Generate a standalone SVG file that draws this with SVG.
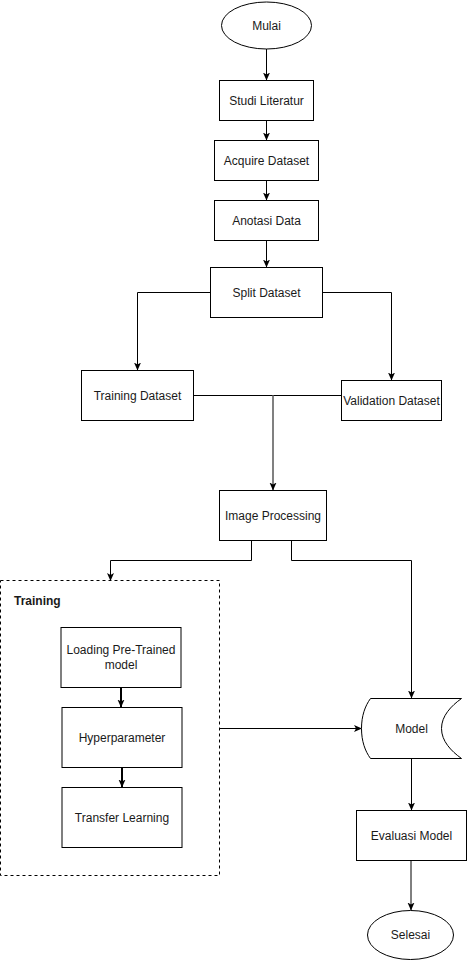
<svg xmlns="http://www.w3.org/2000/svg" width="467" height="961" viewBox="0 0 467 961">
<style>
.n{fill:#fff;stroke:#000;stroke-width:1}
.t{font-family:"Liberation Sans",Arial,sans-serif;font-size:12px;fill:#1a1a1a;text-anchor:middle;dominant-baseline:central}
.c{fill:none;stroke:#000;stroke-width:1}
.c2{fill:none;stroke:#000;stroke-width:2}
.g{fill:none;stroke:#808080;stroke-width:2}
</style>
<defs>
<marker id="a" viewBox="0 0 8 8" refX="7.5" refY="4" markerWidth="8" markerHeight="8" markerUnits="userSpaceOnUse" orient="auto">
<path d="M0,0.5 L8,4 L0,7.5 L2,4 Z" fill="#000"/>
</marker>
</defs>
<rect width="467" height="961" fill="#fff"/>
<g id="connectors">
<path class="c" d="M266.5,49 V80" marker-end="url(#a)"/>
<path class="c" d="M266.5,120 V140" marker-end="url(#a)"/>
<path class="c" d="M266.5,180 V200" marker-end="url(#a)"/>
<path class="c" d="M266.5,240 V267" marker-end="url(#a)"/>
<path class="c" d="M210,292.5 H137.5 V370" marker-end="url(#a)"/>
<path class="c" d="M322,292.5 H391.5 V380" marker-end="url(#a)"/>
<path class="c" d="M193,395.5 H341"/>
<path class="g" d="M273,395.5 V490" stroke-width="1.5" marker-end="url(#a)"/>
<path class="c" d="M251.5,540 V560.5 H110.5 V580.5" marker-end="url(#a)"/>
<path class="c" d="M291.5,540 V560.5 H411.5 V698" marker-end="url(#a)"/>
<path class="c2" d="M121,687 V707" marker-end="url(#a)"/>
<path class="c2" d="M122,767 V787" marker-end="url(#a)"/>
<path class="c" d="M219.5,728.5 H361.5" marker-end="url(#a)"/>
<path class="c" d="M411.5,758.5 V810" marker-end="url(#a)"/>
<path class="c" d="M411,860.5 V910" marker-end="url(#a)"/>
</g>
<g id="mulai"><ellipse class="n" cx="266.5" cy="25.5" rx="45" ry="23.5"/><text class="t" x="266.5" y="25.5">Mulai</text></g>
<g id="studi"><rect class="n" x="219.5" y="80.5" width="94" height="40"/><text class="t" x="266.5" y="100.5">Studi Literatur</text></g>
<g id="acquire"><rect class="n" x="214.5" y="140.5" width="104" height="40"/><text class="t" x="266.5" y="160.5">Acquire Dataset</text></g>
<g id="anotasi"><rect class="n" x="214.5" y="200.5" width="104" height="40"/><text class="t" x="266.5" y="220.5">Anotasi Data</text></g>
<g id="split"><rect class="n" x="210.5" y="267.5" width="112" height="50"/><text class="t" x="266.5" y="292.5">Split Dataset</text></g>
<g id="trainingds"><rect class="n" x="81.5" y="370.5" width="112" height="50"/><text class="t" x="137.5" y="395.5">Training Dataset</text></g>
<g id="validation"><rect class="n" x="341.5" y="380.5" width="100" height="40"/><text class="t" x="391.5" y="400.5">Validation Dataset</text></g>
<g id="imageproc"><rect class="n" x="219.5" y="490.5" width="107" height="50"/><text class="t" x="273" y="515.5">Image Processing</text></g>
<g id="training">
<rect x="0.5" y="580.5" width="219" height="295" fill="none" stroke="#000" stroke-width="1" stroke-dasharray="3 3"/>
<text x="14" y="600.5" font-family="'Liberation Sans',Arial,sans-serif" font-size="12" font-weight="bold" fill="#1a1a1a" dominant-baseline="central">Training</text>
</g>
<g id="loading"><rect class="n" x="61" y="627.5" width="120" height="60"/><text class="t" x="121" y="649.5">Loading Pre-Trained</text><text class="t" x="121" y="664.5">model</text></g>
<g id="hyper"><rect class="n" x="62" y="707.5" width="120" height="60"/><text class="t" x="122" y="737.5">Hyperparameter</text></g>
<g id="transfer"><rect class="n" x="62" y="787.5" width="120" height="60"/><text class="t" x="122" y="817.5">Transfer Learning</text></g>
<g id="model"><path class="n" d="M370.5,698.5 H461.5 C451,706 441.5,716 441.5,728.5 C441.5,741 451,751 461.5,758.5 H370.5 C365,751 361.5,741 361.5,728.5 C361.5,716 365,706 370.5,698.5 Z"/><text class="t" x="411.5" y="728.5">Model</text></g>
<g id="evaluasi"><rect class="n" x="356.5" y="810.5" width="110" height="50"/><text class="t" x="411.5" y="835.5">Evaluasi Model</text></g>
<g id="selesai"><ellipse class="n" cx="410.5" cy="935" rx="43" ry="24.5"/><text class="t" x="410.5" y="935">Selesai</text></g>
</svg>
